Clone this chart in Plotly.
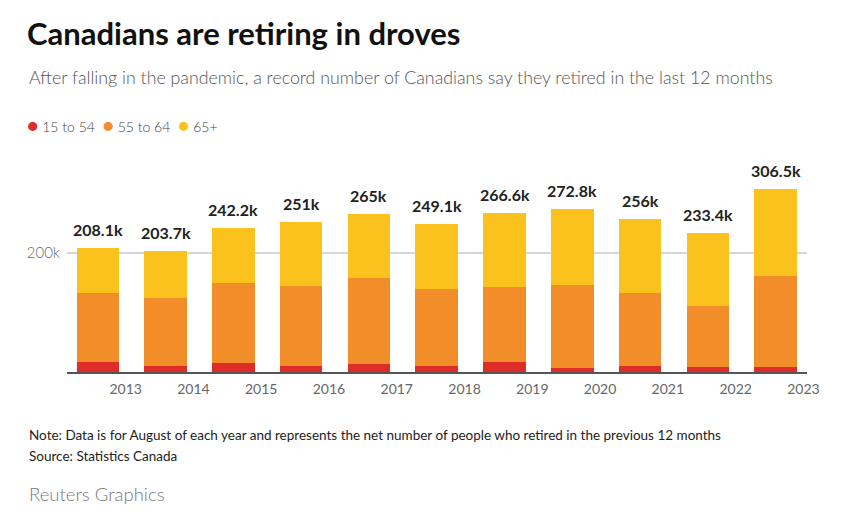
import plotly.graph_objects as go

years = ["2013", "2014", "2015", "2016", "2017", "2018", "2019", "2020", "2021", "2022", "2023"]
age_15_54 = [16.3, 9.6, 15.0, 9.6, 14.0, 10.8, 16.3, 6.7, 9.6, 8.4, 7.8]
age_55_64 = [116.5, 114.8, 134.6, 134.4, 143.5, 128.2, 126.6, 139.0, 123.2, 102.5, 153.0]
age_65_plus = [75.3, 79.3, 92.6, 107.0, 107.5, 110.1, 123.7, 127.1, 123.2, 122.5, 145.7]
total_labels = ["208.1k", "203.7k", "242.2k", "251k", "265k", "249.1k", "266.6k", "272.8k", "256k", "233.4k", "306.5k"]

RED = "#de2d26"
ORANGE = "#f28e2a"
YELLOW = "#fbc11c"
FONT = "Lato"

xpos = list(range(len(years)))
totals = [a + b + c for a, b, c in zip(age_15_54, age_55_64, age_65_plus)]

fig = go.Figure()
for name, vals, col in [("15 to 54", age_15_54, RED), ("55 to 64", age_55_64, ORANGE), ("65+", age_65_plus, YELLOW)]:
    fig.add_trace(go.Bar(x=xpos, y=vals, name=name, marker=dict(color=col, line=dict(width=0)),
                         showlegend=False, hoverinfo="skip"))

annotations = []
for x, t, lab in zip(xpos, totals, total_labels):
    annotations.append(dict(x=x, y=t, xref="x", yref="y", text=lab, showarrow=False,
                            yanchor="bottom", yshift=7,
                            font=dict(family=FONT, size=16, color="#222222", weight="bold")))

L = 66.7
W = 740.0
B = 371.7
H = 211.7
def px(x):
    return (x - L) / W
def py(y):
    return (B - y) / H

annotations += [
    dict(xref="paper", yref="paper", x=px(27), y=py(77), xanchor="left", yanchor="middle", showarrow=False,
         text="After falling in the pandemic, a record number of Canadians say they retired in the last 12 months",
         font=dict(family=FONT, size=17.8, color="#555555", weight=300)),
    dict(xref="paper", yref="paper", x=px(25), y=py(125), xanchor="left", yanchor="middle", showarrow=False,
         text=(f'<span style="color:{RED};font-size:19px">●</span> 15 to 54  '
               f'<span style="color:{ORANGE};font-size:19px">●</span> 55 to 64  '
               f'<span style="color:{YELLOW};font-size:19px">●</span> 65+'),
         font=dict(family=FONT, size=14, color="#444444", weight=300)),
    dict(xref="paper", yref="paper", x=px(27), y=py(435), xanchor="left", yanchor="middle", showarrow=False,
         text="Note: Data is for August of each year and represents the net number of people who retired in the previous 12 months",
         font=dict(family=FONT, size=13.5, color="#222222")),
    dict(xref="paper", yref="paper", x=px(27), y=py(456), xanchor="left", yanchor="middle", showarrow=False,
         text="Source: Statistics Canada",
         font=dict(family=FONT, size=13.5, color="#222222")),
    dict(xref="paper", yref="paper", x=px(27), y=py(494), xanchor="left", yanchor="middle", showarrow=False,
         text="Reuters Graphics",
         font=dict(family=FONT, size=18.5, color="#777777", weight=300)),
]

fig.update_layout(
    width=865, height=517,
    margin=dict(l=L, r=865 - L - W, t=B - H, b=517 - B),
    paper_bgcolor="white", plot_bgcolor="white",
    barmode="stack", bargap=0.373,
    title=dict(text="<b>Canadians are retiring in droves</b>", x=27 / 865, xanchor="left",
               y=1 - 34 / 517, yanchor="middle", xref="container", yref="container",
               font=dict(family=FONT, size=31, color="#111111")),
    annotations=annotations,
    xaxis=dict(range=[-0.455, 10.463], tickvals=[x + 0.41 for x in xpos], ticktext=years,
               showgrid=False, zeroline=False, showline=True, linecolor="#555555", linewidth=2,
               ticks="", tickfont=dict(family=FONT, size=14, color="#666666"), ticklabelstandoff=3),
    yaxis=dict(range=[0, 355.8], tickvals=[200], ticktext=["200k"], showgrid=True,
               gridcolor="#d6d6d6", gridwidth=2, zeroline=False, showline=False, ticks="",
               tickfont=dict(family=FONT, size=15, color="#666666", weight=300), ticklabelstandoff=6),
)

fig.write_html("out.html", config={"displayModeBar": False},
               post_script="document.body.style.margin='0';document.body.style.overflow='hidden';")
